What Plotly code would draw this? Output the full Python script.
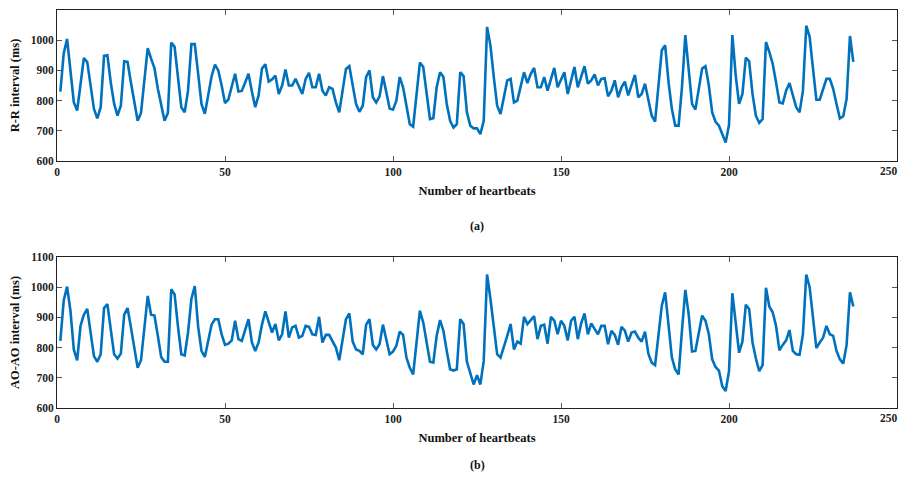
import plotly.graph_objects as go

beats = list(range(1, 238))

rr_ms = [
    830, 956, 1004, 900, 795, 767, 855, 941, 928, 850,
    772, 741, 778, 948, 950, 860, 790, 750, 783, 930,
    928, 860, 795, 733, 759, 870, 974, 939, 908, 840,
    783, 733, 759, 992, 978, 880, 778, 761, 833, 987,
    987, 890, 789, 756, 820, 880, 919, 900, 850, 792,
    803, 845, 889, 830, 832, 860, 889, 830, 778, 817,
    906, 920, 863, 870, 883, 822, 850, 903, 850, 850,
    872, 847, 822, 872, 892, 844, 844, 889, 833, 817,
    844, 839, 794, 761, 833, 905, 914, 846, 789, 763,
    783, 878, 900, 811, 794, 814, 881, 828, 774, 770,
    800, 878, 844, 783, 722, 714, 828, 926, 911, 822,
    739, 742, 844, 894, 878, 789, 733, 711, 722, 894,
    881, 761, 717, 708, 708, 689, 733, 1044, 983, 878,
    783, 756, 806, 867, 872, 794, 800, 850, 894, 858,
    889, 908, 844, 844, 878, 833, 872, 908, 844, 867,
    894, 822, 872, 911, 844, 878, 914, 856, 867, 887,
    850, 872, 874, 814, 833, 867, 811, 844, 863, 817,
    850, 885, 811, 822, 856, 806, 750, 730, 850, 967,
    983, 861, 772, 717, 717, 844, 1017, 894, 789, 770,
    839, 906, 914, 850, 761, 730, 717, 689, 661, 719,
    1017, 883, 789, 822, 942, 930, 822, 750, 726, 739,
    994, 961, 922, 861, 794, 791, 833, 858, 817, 778,
    761, 833, 1048, 1011, 906, 803, 803, 839, 872, 872,
    839, 789, 741, 748, 806, 1014, 928,
]

aoao_ms = [
    822, 956, 1002, 922, 794, 758, 872, 909, 928, 856,
    772, 753, 778, 931, 944, 860, 778, 764, 780, 909,
    931, 867, 800, 733, 758, 865, 971, 909, 906, 840,
    769, 753, 753, 993, 976, 870, 778, 774, 850, 961,
    1004, 870, 789, 769, 822, 876, 894, 894, 844, 809,
    813, 824, 889, 828, 822, 861, 894, 817, 789, 817,
    876, 920, 883, 850, 878, 824, 844, 920, 833, 867,
    872, 833, 839, 872, 869, 844, 842, 902, 817, 842,
    842, 822, 800, 758, 830, 894, 913, 820, 794, 789,
    778, 876, 894, 809, 794, 811, 876, 822, 778, 787,
    806, 853, 842, 767, 733, 711, 811, 922, 883, 811,
    753, 750, 839, 891, 856, 789, 728, 724, 728, 894,
    878, 753, 711, 678, 709, 678, 756, 1042, 961, 867,
    778, 767, 800, 839, 878, 794, 820, 813, 902, 878,
    891, 904, 828, 872, 876, 813, 902, 889, 844, 889,
    872, 824, 889, 902, 828, 880, 913, 844, 880, 860,
    844, 872, 872, 811, 856, 842, 809, 869, 856, 820,
    850, 853, 833, 820, 853, 780, 750, 742, 844, 939,
    983, 878, 767, 728, 711, 856, 991, 911, 787, 789,
    844, 906, 889, 844, 761, 736, 724, 672, 656, 722,
    980, 889, 783, 820, 942, 928, 817, 764, 722, 742,
    998, 936, 917, 872, 791, 809, 824, 858, 789, 778,
    776, 844, 1042, 1000, 906, 798, 817, 833, 872, 844,
    839, 789, 761, 747, 809, 983, 936,
]

x_ticks = [0, 50, 100, 150, 200, 250]
x_tick_labels = ["0", "50", "100", "150", "200", "250"]
y_ticks = [600, 700, 800, 900, 1000, 1100]

LINE = "#0072BD"
FONT = "Liberation Serif"
TICKFONT = dict(family=FONT, size=11.5, color="#222", weight="bold")

# the last x label sits on the window edge: it is drawn right-aligned at the
# axis end (as an annotation) so that it stays fully visible
x_tick_text = x_tick_labels[:-1] + [""]

fig = go.Figure()
fig.add_trace(go.Scatter(x=beats, y=rr_ms, mode="lines",
                         line=dict(color=LINE, width=2.6), xaxis="x", yaxis="y",
                         showlegend=False))
fig.add_trace(go.Scatter(x=beats, y=aoao_ms, mode="lines",
                         line=dict(color=LINE, width=2.6), xaxis="x2", yaxis="y2",
                         showlegend=False))

def xax(anchor):
    return dict(range=[0, 250], tickvals=x_ticks, ticktext=x_tick_text,
                ticks="inside", ticklen=5,
                tickcolor="#555", showline=True, linecolor="#222", linewidth=1,
                mirror="ticks", showgrid=False, zeroline=False, anchor=anchor,
                domain=[0, 1], automargin=False, ticklabeloverflow="allow",
                tickfont=TICKFONT,
                title=dict(text="Number of heartbeats", standoff=9,
                           font=dict(family=FONT, size=12.5, color="#111", weight="bold")))

def yax(anchor, domain, title):
    return dict(range=[600, 1100], tickvals=y_ticks, ticks="inside", ticklen=5,
                tickcolor="#555", showline=True, linecolor="#222", linewidth=1,
                mirror="ticks", showgrid=False, zeroline=False, anchor=anchor,
                domain=domain, automargin=False,
                tickfont=TICKFONT,
                title=dict(text=title, standoff=11,
                           font=dict(family=FONT, size=12.5, color="#111", weight="bold")))

# the page body adds an 8px offset; compensate so the layout lands where the
# reference has it and the page does not overflow the window
OFF = 8
W, H = 907 - OFF, 464
TOP = 10 - OFF
PLOT_BOTTOM = 408 - OFF
BOT = H - PLOT_BOTTOM
plot_h = H - TOP - BOT

def ypix(screen_y):
    return 1 - (screen_y - 10) / plot_h

annotations = [
    dict(text="(a)", x=0.5, y=ypix(226), xref="paper", yref="paper",
         showarrow=False, yanchor="middle",
         font=dict(family=FONT, size=12, color="#111", weight="bold")),
    dict(text="(b)", x=0.5, y=ypix(465), xref="paper", yref="paper",
         showarrow=False, yanchor="middle",
         font=dict(family=FONT, size=12, color="#111", weight="bold")),
]
for xr, yr in (("x domain", "y domain"), ("x2 domain", "y2 domain")):
    annotations.append(dict(text=x_tick_labels[-1], x=1, y=0, xref=xr, yref=yr,
                            xanchor="right", yanchor="top", yshift=-2, xshift=3,
                            showarrow=False, font=TICKFONT))

fig.update_layout(
    width=W, height=H,
    margin=dict(l=57 - OFF, r=10, t=TOP, b=BOT, autoexpand=False),
    paper_bgcolor="white", plot_bgcolor="white",
    xaxis=xax("y"),
    yaxis=yax("x", [ypix(161), 1.0], "R-R interval (ms)"),
    xaxis2=xax("y2"),
    yaxis2=yax("x2", [0.0, ypix(257)], "AO-AO interval (ms)"),
    annotations=annotations,
)

fig.write_html("out.html")
